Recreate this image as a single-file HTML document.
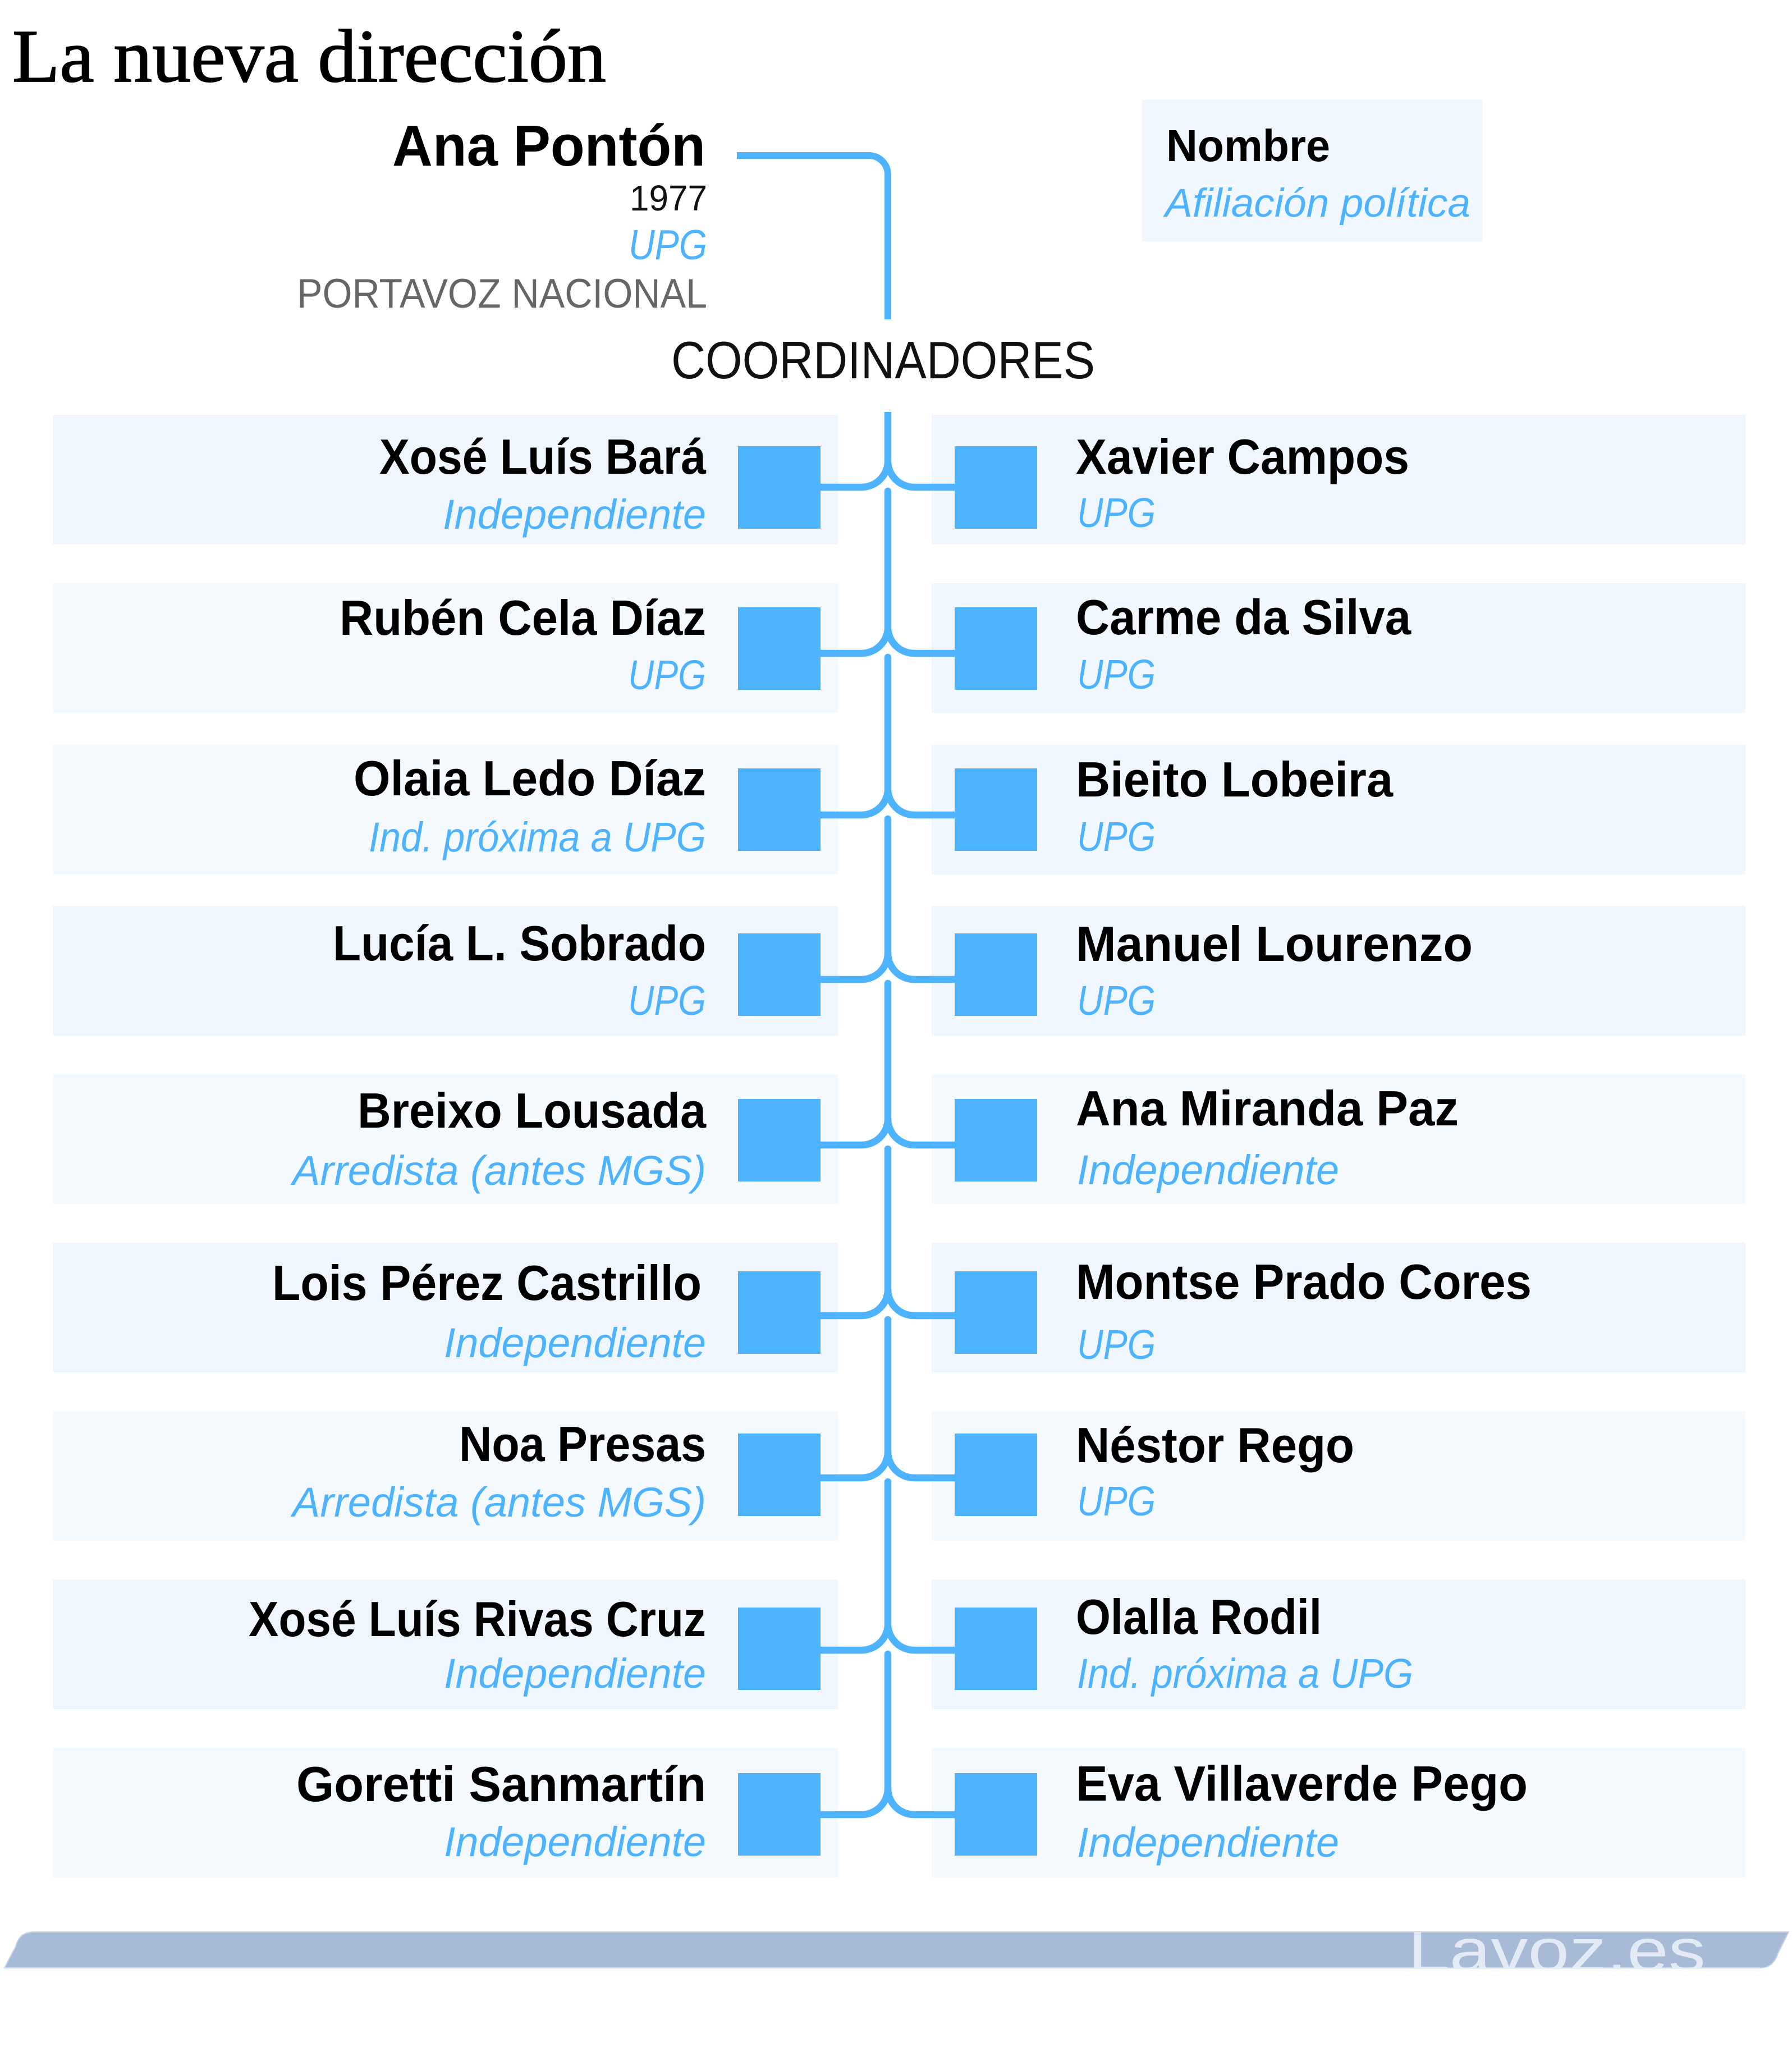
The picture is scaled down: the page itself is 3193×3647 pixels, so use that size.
<!DOCTYPE html>
<html>
<head>
<meta charset="utf-8">
<style>
html,body{margin:0;padding:0;background:#fff;}
svg{display:block;}
text{font-family:"Liberation Sans",sans-serif;}
.nm{font-weight:bold;font-size:88px;fill:#000;}
.af{font-style:italic;font-size:74px;fill:#4db3ff;}
</style>
</head>
<body>
<svg xmlns="http://www.w3.org/2000/svg" width="3193" height="3647" viewBox="0 0 3193 3647">
<rect x="0" y="0" width="3193" height="3647" fill="#ffffff"/>

<!-- Title -->
<text x="22" y="145" style="font-family:'Liberation Serif',serif" font-size="134" fill="#000" stroke="#000" stroke-width="1.8" textLength="1058" lengthAdjust="spacingAndGlyphs">La nueva dirección</text>

<!-- Ana Pontón block -->
<text x="1257" y="295" text-anchor="end" font-size="103" font-weight="bold" fill="#000" textLength="558" lengthAdjust="spacingAndGlyphs">Ana Pontón</text>
<text x="1260" y="375" text-anchor="end" font-size="64" fill="#111" textLength="138" lengthAdjust="spacingAndGlyphs">1977</text>
<text x="1260" y="462" text-anchor="end" font-size="75" font-style="italic" fill="#4db3ff" textLength="140" lengthAdjust="spacingAndGlyphs">UPG</text>
<text x="1260" y="548" text-anchor="end" font-size="73" fill="#666666" textLength="731" lengthAdjust="spacingAndGlyphs">PORTAVOZ NACIONAL</text>

<!-- Legend -->
<rect x="2035" y="178" width="607" height="252" fill="#f0f7fe"/>
<text x="2078" y="287" font-size="80" font-weight="bold" fill="#000" textLength="292" lengthAdjust="spacingAndGlyphs">Nombre</text>
<text x="2076" y="386" font-size="71" font-style="italic" fill="#4db3ff" textLength="544" lengthAdjust="spacingAndGlyphs">Afiliación política</text>

<!-- COORDINADORES -->
<text x="1196" y="674" font-size="94" fill="#111" textLength="755" lengthAdjust="spacingAndGlyphs">COORDINADORES</text>

<!-- Top connector -->
<path d="M1313 277 L1548 277 A34 34 0 0 1 1582 311 L1582 569" fill="none" stroke="#4db3ff" stroke-width="12"/>

<!-- Row boxes -->
<g>
<rect x="94" y="739" width="1399" height="231" fill="#eff6fe"/>
<rect x="1660" y="739" width="1450" height="231" fill="#eff6fe"/>
<rect x="94" y="1039" width="1399" height="231" fill="#f4f9fe"/>
<rect x="1660" y="1039" width="1450" height="231" fill="#f1f7fe"/>
<rect x="94" y="1327" width="1399" height="231" fill="#f4f9fe"/>
<rect x="1660" y="1327" width="1450" height="231" fill="#f1f7fe"/>
<rect x="94" y="1614" width="1399" height="231" fill="#eff6fe"/>
<rect x="1660" y="1614" width="1450" height="231" fill="#eff6fe"/>
<rect x="94" y="1914" width="1399" height="231" fill="#f4f9fe"/>
<rect x="1660" y="1914" width="1450" height="231" fill="#f4f9fe"/>
<rect x="94" y="2214" width="1399" height="231" fill="#eff6fe"/>
<rect x="1660" y="2214" width="1450" height="231" fill="#eff6fe"/>
<rect x="94" y="2514" width="1399" height="231" fill="#f4f9fe"/>
<rect x="1660" y="2514" width="1450" height="231" fill="#f4f9fe"/>
<rect x="94" y="2814" width="1399" height="231" fill="#eff6fe"/>
<rect x="1660" y="2814" width="1450" height="231" fill="#eff6fe"/>
<rect x="94" y="3114" width="1399" height="231" fill="#f4f9fe"/>
<rect x="1660" y="3114" width="1450" height="231" fill="#f4f9fe"/>
</g>

<!-- Connectors -->
<g fill="none" stroke="#4db3ff" stroke-width="12.5">
<path d="M1582 734 L1582 821"/>
<path d="M1582 821 A47 47 0 0 1 1535 868 L1462 868 M1582 821 A47 47 0 0 0 1629 868 L1701 868"/>

<path d="M1582 875 L1582 1117" stroke-linecap="round"/>
<path d="M1582 1117 A47 47 0 0 1 1535 1164 L1462 1164 M1582 1117 A47 47 0 0 0 1629 1164 L1701 1164"/>

<path d="M1582 1171 L1582 1405" stroke-linecap="round"/>
<path d="M1582 1405 A47 47 0 0 1 1535 1452 L1462 1452 M1582 1405 A47 47 0 0 0 1629 1452 L1701 1452"/>

<path d="M1582 1459 L1582 1698" stroke-linecap="round"/>
<path d="M1582 1698 A47 47 0 0 1 1535 1745 L1462 1745 M1582 1698 A47 47 0 0 0 1629 1745 L1701 1745"/>

<path d="M1582 1752 L1582 1993" stroke-linecap="round"/>
<path d="M1582 1993 A47 47 0 0 1 1535 2040 L1462 2040 M1582 1993 A47 47 0 0 0 1629 2040 L1701 2040"/>

<path d="M1582 2047 L1582 2297" stroke-linecap="round"/>
<path d="M1582 2297 A47 47 0 0 1 1535 2344 L1462 2344 M1582 2297 A47 47 0 0 0 1629 2344 L1701 2344"/>

<path d="M1582 2351 L1582 2586" stroke-linecap="round"/>
<path d="M1582 2586 A47 47 0 0 1 1535 2633 L1462 2633 M1582 2586 A47 47 0 0 0 1629 2633 L1701 2633"/>

<path d="M1582 2640 L1582 2893" stroke-linecap="round"/>
<path d="M1582 2893 A47 47 0 0 1 1535 2940 L1462 2940 M1582 2893 A47 47 0 0 0 1629 2940 L1701 2940"/>

<path d="M1582 2947 L1582 3186" stroke-linecap="round"/>
<path d="M1582 3186 A47 47 0 0 1 1535 3233 L1462 3233 M1582 3186 A47 47 0 0 0 1629 3233 L1701 3233"/>
</g>

<!-- Squares -->
<g fill="#4db3ff">
<rect x="1315" y="795" width="147" height="147"/><rect x="1701" y="795" width="147" height="147"/>
<rect x="1315" y="1082" width="147" height="147"/><rect x="1701" y="1082" width="147" height="147"/>
<rect x="1315" y="1369" width="147" height="147"/><rect x="1701" y="1369" width="147" height="147"/>
<rect x="1315" y="1663" width="147" height="147"/><rect x="1701" y="1663" width="147" height="147"/>
<rect x="1315" y="1958" width="147" height="147"/><rect x="1701" y="1958" width="147" height="147"/>
<rect x="1315" y="2265" width="147" height="147"/><rect x="1701" y="2265" width="147" height="147"/>
<rect x="1315" y="2554" width="147" height="147"/><rect x="1701" y="2554" width="147" height="147"/>
<rect x="1315" y="2864" width="147" height="147"/><rect x="1701" y="2864" width="147" height="147"/>
<rect x="1315" y="3159" width="147" height="147"/><rect x="1701" y="3159" width="147" height="147"/>
</g>

<!-- Left column text -->
<g text-anchor="end">
<text class="nm" x="1258" y="844" textLength="582" lengthAdjust="spacingAndGlyphs">Xosé Luís Bará</text>
<text class="af" x="1258" y="942" textLength="469" lengthAdjust="spacingAndGlyphs">Independiente</text>

<text class="nm" x="1258" y="1131" textLength="653" lengthAdjust="spacingAndGlyphs">Rubén Cela Díaz</text>
<text class="af" x="1258" y="1228" textLength="139" lengthAdjust="spacingAndGlyphs">UPG</text>

<text class="nm" x="1258" y="1417" textLength="628" lengthAdjust="spacingAndGlyphs">Olaia Ledo Díaz</text>
<text class="af" x="1258" y="1517" textLength="601" lengthAdjust="spacingAndGlyphs">Ind. próxima a UPG</text>

<text class="nm" x="1258" y="1711" textLength="665" lengthAdjust="spacingAndGlyphs">Lucía L. Sobrado</text>
<text class="af" x="1258" y="1808" textLength="139" lengthAdjust="spacingAndGlyphs">UPG</text>

<text class="nm" x="1258" y="2009" textLength="621" lengthAdjust="spacingAndGlyphs">Breixo Lousada</text>
<text class="af" x="1258" y="2111" textLength="737" lengthAdjust="spacingAndGlyphs">Arredista (antes MGS)</text>

<text class="nm" x="1250" y="2316" textLength="765" lengthAdjust="spacingAndGlyphs">Lois Pérez Castrillo</text>
<text class="af" x="1258" y="2418" textLength="467" lengthAdjust="spacingAndGlyphs">Independiente</text>

<text class="nm" x="1258" y="2603" textLength="440" lengthAdjust="spacingAndGlyphs">Noa Presas</text>
<text class="af" x="1258" y="2702" textLength="737" lengthAdjust="spacingAndGlyphs">Arredista (antes MGS)</text>

<text class="nm" x="1258" y="2915" textLength="815" lengthAdjust="spacingAndGlyphs">Xosé Luís Rivas Cruz</text>
<text class="af" x="1258" y="3007" textLength="467" lengthAdjust="spacingAndGlyphs">Independiente</text>

<text class="nm" x="1258" y="3209" textLength="730" lengthAdjust="spacingAndGlyphs">Goretti Sanmartín</text>
<text class="af" x="1258" y="3307" textLength="467" lengthAdjust="spacingAndGlyphs">Independiente</text>
</g>

<!-- Right column text -->
<g>
<text class="nm" x="1917" y="844" textLength="594" lengthAdjust="spacingAndGlyphs">Xavier Campos</text>
<text class="af" x="1919" y="939" textLength="140" lengthAdjust="spacingAndGlyphs">UPG</text>

<text class="nm" x="1917" y="1130" textLength="597" lengthAdjust="spacingAndGlyphs">Carme da Silva</text>
<text class="af" x="1919" y="1227" textLength="140" lengthAdjust="spacingAndGlyphs">UPG</text>

<text class="nm" x="1917" y="1419" textLength="565" lengthAdjust="spacingAndGlyphs">Bieito Lobeira</text>
<text class="af" x="1919" y="1516" textLength="140" lengthAdjust="spacingAndGlyphs">UPG</text>

<text class="nm" x="1917" y="1712" textLength="707" lengthAdjust="spacingAndGlyphs">Manuel Lourenzo</text>
<text class="af" x="1919" y="1808" textLength="140" lengthAdjust="spacingAndGlyphs">UPG</text>

<text class="nm" x="1917" y="2005" textLength="682" lengthAdjust="spacingAndGlyphs">Ana Miranda Paz</text>
<text class="af" x="1919" y="2110" textLength="467" lengthAdjust="spacingAndGlyphs">Independiente</text>

<text class="nm" x="1917" y="2314" textLength="812" lengthAdjust="spacingAndGlyphs">Montse Prado Cores</text>
<text class="af" x="1919" y="2421" textLength="140" lengthAdjust="spacingAndGlyphs">UPG</text>

<text class="nm" x="1917" y="2605" textLength="496" lengthAdjust="spacingAndGlyphs">Néstor Rego</text>
<text class="af" x="1919" y="2700" textLength="140" lengthAdjust="spacingAndGlyphs">UPG</text>

<text class="nm" x="1917" y="2911" textLength="438" lengthAdjust="spacingAndGlyphs">Olalla Rodil</text>
<text class="af" x="1919" y="3007" textLength="599" lengthAdjust="spacingAndGlyphs">Ind. próxima a UPG</text>

<text class="nm" x="1917" y="3208" textLength="805" lengthAdjust="spacingAndGlyphs">Eva Villaverde Pego</text>
<text class="af" x="1919" y="3308" textLength="467" lengthAdjust="spacingAndGlyphs">Independiente</text>
</g>

<!-- Bottom bar -->
<defs>
<clipPath id="barclip">
<path d="M8 3506 L28 3468 Q34 3442 61 3442 L3187 3442 L3168 3480 Q3160 3506 3136 3506 Z"/>
</clipPath>
</defs>
<path d="M8 3506 L28 3468 Q34 3442 61 3442 L3187 3442 L3168 3480 Q3160 3506 3136 3506 Z" fill="#a7bad6" stroke="#c6d3e6" stroke-width="2"/>
<g clip-path="url(#barclip)">
<text x="2509" y="3512" font-size="108" fill="#e3eaf3" textLength="530" lengthAdjust="spacingAndGlyphs">Lavoz.es</text>
</g>
</svg>
</body>
</html>
